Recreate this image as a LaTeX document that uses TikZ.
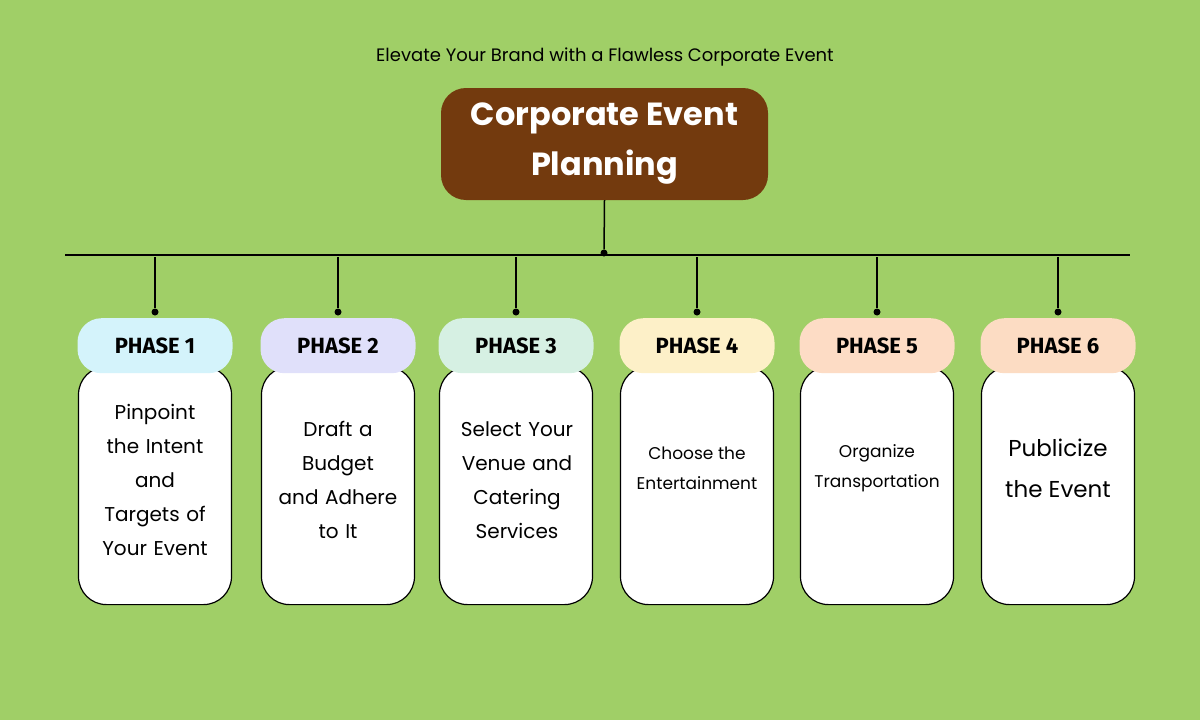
\documentclass[tikz,border=0pt]{standalone}
\usepackage{fontspec}
\setmainfont{Poppins}
\newfontfamily\phasefont{Fira Sans}
\begin{document}
\begin{tikzpicture}[x=1pt,y=-1pt,
  card/.style={draw=black,line width=1.2pt,fill=white,rounded corners=28pt,minimum width=153pt,minimum height=238pt,anchor=north},
  pill/.style={rounded corners=24pt,minimum width=155pt,minimum height=55pt,font=\phasefont\bfseries\fontsize{22}{24}\selectfont,anchor=north},
  body/.style={align=center,font=\fontsize{20}{34}\selectfont,text width=150pt},
  dot/.style={circle,fill=black,inner sep=0pt,minimum size=7pt}]
\fill[fill={rgb,255:red,160;green,207;blue,103}] (0,0) rectangle (1200,720);
\useasboundingbox (0,0) rectangle (1200,720);
\node (title) at (605,57) {\fontsize{18}{20}\selectfont Elevate Your Brand with a Flawless Corporate Event};
\node[fill={rgb,255:red,115;green,58;blue,14},rounded corners=25pt,minimum width=327pt,minimum height=112pt,align=center,text=white,font=\bfseries\fontsize{32}{50}\selectfont] (main) at (604.5,144) {Corporate Event\\Planning};
\coordinate (hl) at (65,255); \coordinate (hr) at (1130,255);
\draw[line width=1.5pt] (hl) -- (hr);
\node[dot] (hub) at (604,253) {};
\draw[line width=1.5pt] (main.south) -- (hub);
\foreach \i/\x/\c/\t in {1/155/{212,243,251}/{Pinpoint\\the Intent\\and\\Targets of\\Your Event},
  2/338/{224,224,250}/{Draft a\\Budget\\and Adhere\\to It},
  3/516/{214,240,227}/{Select Your\\Venue and\\Catering\\Services},
  4/697/{253,240,200}/{},
  5/877/{253,220,197}/{},
  6/1058/{252,220,195}/{}}{
  \coordinate (top\i) at (\x,257);
  \node[dot] (d\i) at (\x,312) {};
  \draw[line width=1.5pt] (top\i) -- (d\i);
  \definecolor{pc\i}{RGB}{\c}
  \node[card] (card\i) at (\x,366) {};
  \node[pill,fill=pc\i] (p\i) at (\x,318) {PHASE \i};
}
\node[body] at (155,480) {Pinpoint\\the Intent\\and\\Targets of\\Your Event};
\node[body] at (338,480) {Draft a\\Budget\\and Adhere\\to It};
\node[body] at (517,480) {Select Your\\Venue and\\Catering\\Services};
\node[align=center,font=\fontsize{17}{30}\selectfont] at (697,468) {Choose the\\Entertainment};
\node[align=center,font=\fontsize{17}{30}\selectfont] at (877,468) {Organize\\Transportation};
\node[align=center,font=\fontsize{23}{41}\selectfont] at (1058,468) {Publicize\\the Event};
\end{tikzpicture}
\end{document}
